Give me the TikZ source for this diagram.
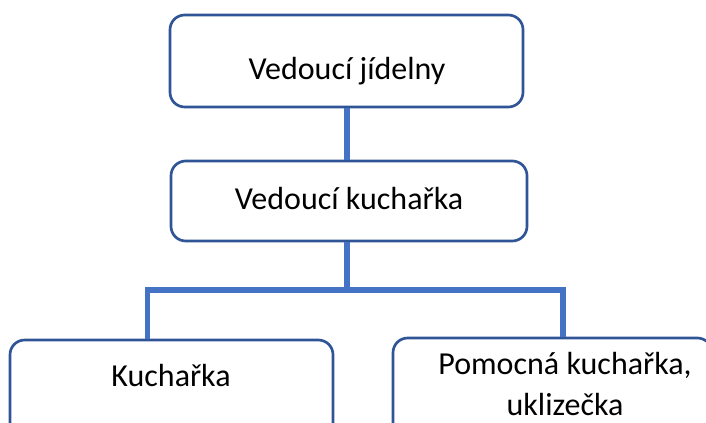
\documentclass[tikz,border=0pt]{standalone}
\usepackage{fontspec}
\setmainfont{Carlito}
\definecolor{boxblue}{HTML}{2F5597}
\definecolor{lineblue}{HTML}{4472C4}
\begin{document}
\begin{tikzpicture}[x=0.75pt,y=-0.75pt,
  box/.style={draw=boxblue, line width=2pt, rounded corners=11pt, fill=white, inner sep=0pt},
  lbl/.style={font=\fontsize{24pt}{32pt}\selectfont, inner sep=0pt, text=black},
  conn/.style={draw=lineblue, line width=3.8pt}]
\useasboundingbox (0,0) rectangle (706,423);
\clip (0,0) rectangle (706,423);
\coordinate (j) at (347,290);
\coordinate (jl) at (147.5,290);
\coordinate (jr) at (563,290);
% boxes
\node[box, minimum width=264.75pt, minimum height=69pt] (b1) at (346.5,61) {};
\node[box, minimum width=267pt, minimum height=60pt] (b2) at (349,201) {};
\node[box, minimum width=242.25pt, minimum height=79.5pt] (b3) at (171.5,393) {};
\node[box, minimum width=239.25pt, minimum height=81pt] (b4) at (552.5,392) {};
% connectors
\draw[conn] (b1.south -| j) -- (b2.north -| j);
\draw[conn] (b2.south -| j) -- (j);
\draw[conn, line cap=rect] (jl) -- (jr);
\draw[conn] (jl) -- (b3.north -| jl);
\draw[conn] (jr) -- (b4.north -| jr);
% labels
\node[lbl, anchor=base] (t1) at (347,80) {Vedoucí jídelny};
\node[lbl, anchor=base] (t2) at (349,210) {Vedoucí kuchařka};
\node[lbl, anchor=base] (t3) at (171,387) {Kuchařka};
\node[lbl, anchor=base] (t4) at (565,375) {Pomocná kuchařka,};
\node[lbl, anchor=base] (t5) at (565,416) {uklizečka};
\end{tikzpicture}
\end{document}
